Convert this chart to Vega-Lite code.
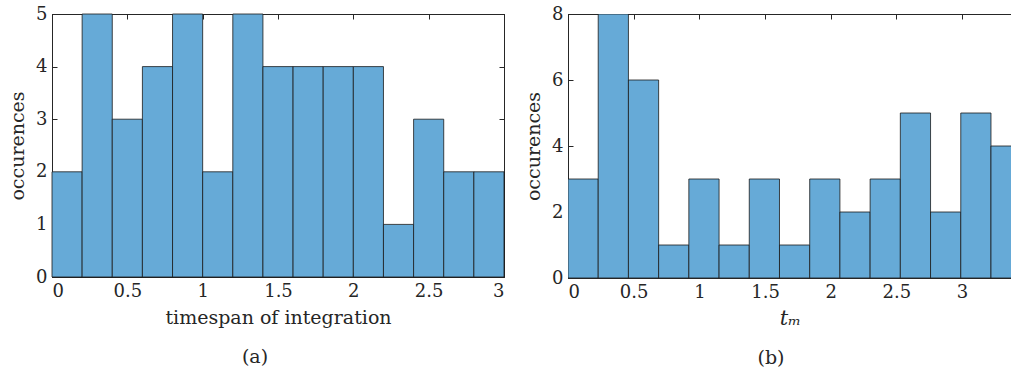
{
  "$schema": "https://vega.github.io/schema/vega-lite/v6.json",
  "padding": {"left": 8, "top": 4, "right": 0, "bottom": 0},
  "spacing": 19,
  "config": {
    "font": "DejaVu Serif",
    "view": {"stroke": "#262626", "strokeWidth": 1},
    "axis": {
      "grid": false,
      "domainColor": "#262626",
      "tickColor": "#262626",
      "tickSize": -5,
      "labelColor": "#262626",
      "labelFont": "DejaVu Serif",
      "labelFontSize": 18,
      "titleFont": "DejaVu Serif",
      "titleFontSize": 19,
      "titleFontWeight": "normal",
      "titleColor": "#262626",
      "labelPadding": 10,
      "format": "~g"
    }
  },
  "hconcat": [
    {
      "width": 452,
      "height": 263,
      "data": {"values": [
        {"start": 0.0, "end": 0.2, "count": 2},
        {"start": 0.2, "end": 0.4, "count": 5},
        {"start": 0.4, "end": 0.6, "count": 3},
        {"start": 0.6, "end": 0.8, "count": 4},
        {"start": 0.8, "end": 1.0, "count": 5},
        {"start": 1.0, "end": 1.2, "count": 2},
        {"start": 1.2, "end": 1.4, "count": 5},
        {"start": 1.4, "end": 1.6, "count": 4},
        {"start": 1.6, "end": 1.8, "count": 4},
        {"start": 1.8, "end": 2.0, "count": 4},
        {"start": 2.0, "end": 2.2, "count": 4},
        {"start": 2.2, "end": 2.4, "count": 1},
        {"start": 2.4, "end": 2.6, "count": 3},
        {"start": 2.6, "end": 2.8, "count": 2},
        {"start": 2.8, "end": 3.0, "count": 2}
      ]},
      "title": {"text": "(a)", "orient": "bottom", "anchor": "middle", "dx": -23, "offset": 21, "fontSize": 19, "fontWeight": "normal", "font": "DejaVu Serif", "color": "#262626"},
      "layer": [
        {
          "mark": {"type": "bar", "fill": "#66aad7", "stroke": "#1a1a1a", "strokeWidth": 0.8},
          "encoding": {
            "x": {"field": "start", "type": "quantitative", "scale": {"domain": [0, 3], "nice": false},
                  "axis": {"orient": "bottom", "values": [0, 0.5, 1, 1.5, 2, 2.5, 3], "title": "timespan of integration", "titlePadding": 8}},
            "x2": {"field": "end"},
            "y": {"field": "count", "type": "quantitative", "scale": {"domain": [0, 5], "nice": false},
                  "axis": {"orient": "left", "values": [0, 1, 2, 3, 4, 5], "title": "occurences", "titlePadding": 8}},
            "y2": {"datum": 0}
          }
        },
        {
          "mark": {"type": "bar", "opacity": 0},
          "encoding": {
            "x": {"field": "start", "type": "quantitative", "axis": {"orient": "top", "values": [0, 0.5, 1, 1.5, 2, 2.5, 3], "labels": false, "title": null}},
            "x2": {"field": "end"},
            "y": {"field": "count", "type": "quantitative", "axis": {"orient": "right", "values": [0, 1, 2, 3, 4, 5], "labels": false, "title": null}},
            "y2": {"datum": 0}
          }
        }
      ],
      "resolve": {"axis": {"x": "independent", "y": "independent"}}
    },
    {
      "width": 444,
      "height": 264,
      "data": {"values": [
        {"start": 0.0, "end": 0.23, "count": 3},
        {"start": 0.23, "end": 0.46, "count": 8},
        {"start": 0.46, "end": 0.69, "count": 6},
        {"start": 0.69, "end": 0.92, "count": 1},
        {"start": 0.92, "end": 1.15, "count": 3},
        {"start": 1.15, "end": 1.38, "count": 1},
        {"start": 1.38, "end": 1.61, "count": 3},
        {"start": 1.61, "end": 1.84, "count": 1},
        {"start": 1.84, "end": 2.07, "count": 3},
        {"start": 2.07, "end": 2.3, "count": 2},
        {"start": 2.3, "end": 2.53, "count": 3},
        {"start": 2.53, "end": 2.76, "count": 5},
        {"start": 2.76, "end": 2.99, "count": 2},
        {"start": 2.99, "end": 3.22, "count": 5},
        {"start": 3.22, "end": 3.45, "count": 4}
      ]},
      "title": {"text": "(b)", "orient": "bottom", "anchor": "middle", "dx": -19, "offset": 21, "fontSize": 19, "fontWeight": "normal", "font": "DejaVu Serif", "color": "#262626"},
      "layer": [
        {
          "mark": {"type": "bar", "fill": "#66aad7", "stroke": "#1a1a1a", "strokeWidth": 0.8, "clip": true},
          "encoding": {
            "x": {"field": "start", "type": "quantitative", "scale": {"domain": [0, 3.38], "nice": false},
                  "axis": {"orient": "bottom", "values": [0, 0.5, 1, 1.5, 2, 2.5, 3], "title": "tₘ", "titleFontStyle": "italic", "titleFontSize": 21, "titlePadding": 6}},
            "x2": {"field": "end"},
            "y": {"field": "count", "type": "quantitative", "scale": {"domain": [0, 8], "nice": false},
                  "axis": {"orient": "left", "values": [0, 2, 4, 6, 8], "title": "occurences", "titlePadding": 8}},
            "y2": {"datum": 0}
          }
        },
        {
          "mark": {"type": "bar", "opacity": 0, "clip": true},
          "encoding": {
            "x": {"field": "start", "type": "quantitative", "axis": {"orient": "top", "values": [0, 0.5, 1, 1.5, 2, 2.5, 3], "labels": false, "title": null}},
            "x2": {"field": "end"},
            "y": {"field": "count", "type": "quantitative", "axis": {"orient": "right", "values": [0, 2, 4, 6, 8], "labels": false, "title": null, "ticks": false, "domain": false}},
            "y2": {"datum": 0}
          }
        }
      ],
      "resolve": {"axis": {"x": "independent", "y": "independent"}}
    }
  ]
}
